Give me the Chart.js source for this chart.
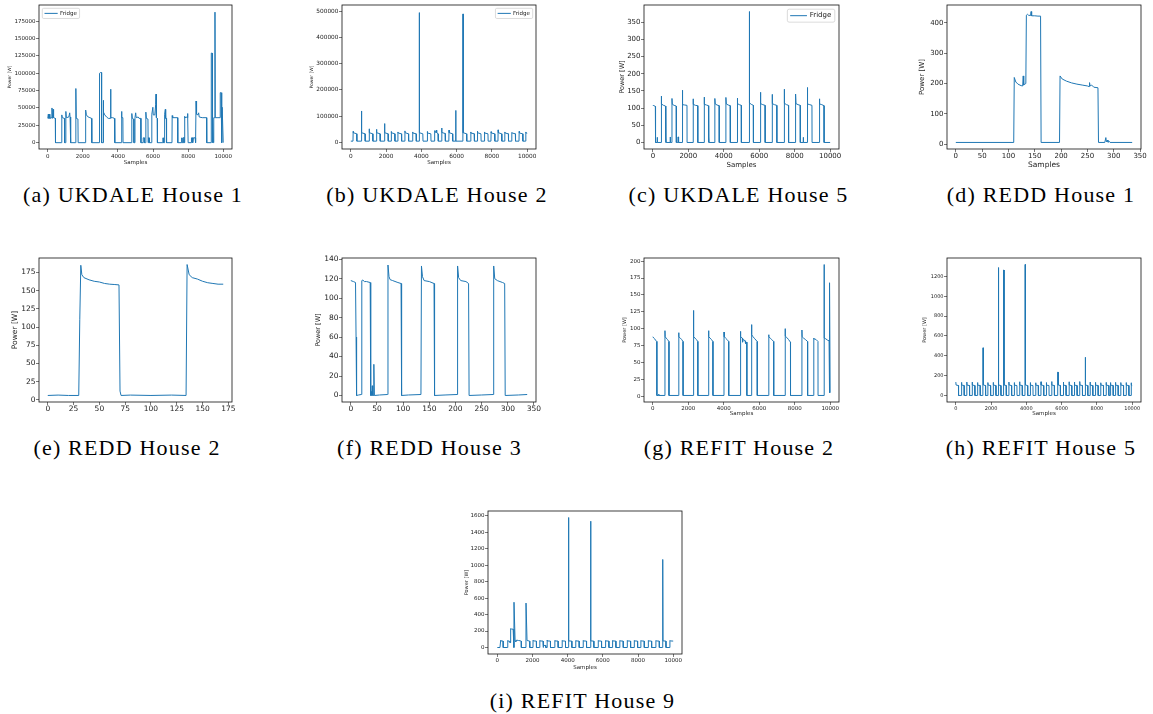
<!DOCTYPE html>
<html>
<head>
<meta charset="utf-8">
<script src="https://cdn.jsdelivr.net/npm/chart.js@4.4.1/dist/chart.umd.min.js"></script>
<style>
  html, body { margin: 0; padding: 0; background: #fff; }
  #page { position: relative; width: 1153px; height: 714px; overflow: hidden; }
  .cell { position: absolute; }
  .cap {
    position: absolute;
    font-family: "Liberation Serif", serif;
    font-size: 22px;
    line-height: 22px;
    letter-spacing: 1.2px;
    white-space: nowrap;
    transform: translateX(-50%);
    color: #000;
  }
</style>
</head>
<body>
<div id="page"></div>
<script>
// series as [sample, power] pairs
const ukdale1 = [
  [0, 35000], [30, 41000], [60, 35000], [90, 41000], [120, 35000], [200, 36000], [240, 50000], [260, 35000],
  [300, 48000], [330, 36000], [430, 35000], [440, 0],
  [790, 0], [800, 40000], [830, 36000], [950, 35000], [960, 0], [1020, 0], [1030, 45000], [1060, 36000],
  [1200, 37000], [1250, 43000], [1270, 37000], [1300, 37000], [1310, 0],
  [1590, 0], [1600, 78000], [1625, 35000], [1720, 34000], [1730, 0],
  [2150, 0], [2160, 47000], [2200, 40000], [2300, 37000], [2400, 36000], [2500, 35000], [2510, 0],
  [2940, 0], [2950, 100000], [3000, 101000], [3060, 101000], [3070, 0], [3150, 0], [3160, 61000], [3190, 44000],
  [3250, 40000], [3350, 37000], [3450, 35000], [3560, 35000], [3580, 77000], [3600, 36000], [3700, 36000],
  [3800, 35000], [3820, 0],
  [4190, 0], [4200, 45000], [4230, 36000], [4280, 36000], [4290, 0],
  [4780, 0], [4790, 42000], [4820, 35000], [4900, 34000], [4910, 0], [4960, 0], [4970, 36000], [5010, 43000],
  [5040, 36000], [5150, 37000], [5200, 35000], [5300, 35000], [5310, 0],
  [5430, 0], [5440, 7000], [5500, 7000], [5510, 0], [5580, 0], [5590, 44000], [5620, 35000], [5710, 34000],
  [5720, 0], [5740, 7000], [5780, 7000], [5790, 0],
  [5920, 0], [5930, 41000], [5990, 51000], [6010, 40000], [6100, 40000], [6150, 55000], [6170, 70000],
  [6190, 36000], [6240, 35000], [6250, 0],
  [6560, 0], [6570, 7000], [6600, 0], [6650, 0], [6660, 41000], [6700, 48000], [6720, 35000], [6760, 35000], [6770, 0],
  [7080, 0], [7090, 39000], [7120, 36000], [7400, 36000], [7410, 0],
  [7620, 0], [7630, 7000], [7660, 0], [7700, 7000], [7730, 0], [7760, 8000], [7780, 0], [7790, 38000],
  [7820, 36000], [7950, 37000], [7960, 42000], [7990, 36000], [8000, 0],
  [8180, 0], [8190, 7000], [8250, 7000], [8260, 0], [8300, 7000], [8400, 7000], [8410, 0], [8440, 0],
  [8450, 60000], [8480, 41000], [8560, 40000], [8600, 43000], [8630, 37000], [8800, 36000], [9050, 36000], [9060, 0],
  [9310, 0], [9320, 129000], [9370, 129000], [9380, 0], [9400, 36000], [9440, 0], [9460, 36000], [9520, 36000],
  [9530, 188000], [9545, 36000], [9700, 36000], [9820, 36000], [9830, 72000], [9880, 72000], [9890, 36000],
  [9920, 36000], [9930, 0], [9940, 51000], [9980, 51000], [10000, 0]
];

const ukdale2 = [
  [0, 5000], [123, 5000], [133, 42000], [148, 37000], [333, 33000], [343, 5000],
  [596, 5000], [606, 120000], [616, 37000], [806, 33000], [816, 5000],
  [1032, 5000], [1042, 52000], [1057, 37000], [1242, 33000], [1252, 5000],
  [1448, 5000], [1458, 50000], [1473, 37000], [1658, 33000], [1668, 5000],
  [1903, 5000], [1913, 72000], [1928, 37000], [2113, 33000], [2123, 5000],
  [2282, 5000], [2292, 42000], [2307, 37000], [2492, 33000], [2502, 5000],
  [2661, 5000], [2671, 40000], [2686, 36000], [2871, 33000], [2881, 5000],
  [3058, 5000], [3068, 44000], [3083, 37000], [3268, 33000], [3278, 5000],
  [3494, 5000], [3504, 40000], [3519, 36000], [3704, 33000], [3714, 5000],
  [3873, 5000], [3883, 495000], [3893, 37000], [4083, 33000], [4093, 5000],
  [4327, 5000], [4337, 42000], [4352, 36000], [4537, 33000], [4547, 5000],
  [4744, 5000], [4754, 45000], [4800, 38000], [4850, 47000], [4870, 37000], [4950, 33000], [4960, 5000],
  [5142, 5000], [5152, 55000], [5167, 38000], [5352, 34000], [5362, 5000],
  [5558, 5000], [5568, 47000], [5583, 37000], [5768, 33000], [5778, 5000],
  [5940, 5000], [5950, 122000], [5960, 5000],
  [6354, 5000], [6364, 490000], [6374, 37000], [6564, 33000], [6574, 5000],
  [6789, 5000], [6799, 40000], [6814, 36000], [6999, 33000], [7009, 5000],
  [7168, 5000], [7178, 43000], [7193, 37000], [7378, 33000], [7388, 5000],
  [7566, 5000], [7576, 40000], [7591, 36000], [7776, 33000], [7786, 5000],
  [7945, 5000], [7955, 41000], [7970, 36000], [8155, 33000], [8165, 5000],
  [8343, 5000], [8353, 48000], [8368, 37000], [8553, 33000], [8563, 5000],
  [8722, 5000], [8732, 40000], [8747, 36000], [8932, 33000], [8942, 5000],
  [9119, 5000], [9129, 38000], [9144, 36000], [9329, 33000], [9339, 5000],
  [9536, 5000], [9546, 42000], [9561, 36000], [9746, 33000], [9756, 5000],
  [9914, 5000], [9924, 40000], [9939, 36000], [10000, 35000]
];

const ukdale5 = [
  [0, 107], [20, 108], [140, 105], [151, 0], [240, 0], [246, 15], [256, 0],
  [468, 0], [473, 135], [495, 112], [600, 108], [715, 106], [720, 0], [735, 0], [740, 16], [750, 0],
  [970, 0], [980, 16], [990, 0], [1075, 0], [1078, 128], [1100, 111], [1200, 108], [1320, 106], [1325, 0],
  [1410, 0], [1415, 16], [1445, 16], [1450, 0],
  [1660, 0], [1663, 152], [1685, 110], [1800, 109], [1925, 108], [1930, 0],
  [2265, 0], [2268, 127], [2290, 111], [2400, 108], [2530, 107], [2535, 0],
  [2890, 0], [2892, 132], [2915, 111], [3020, 109], [3135, 107], [3140, 0], [3155, 0], [3160, 16], [3170, 0],
  [3495, 0], [3497, 128], [3520, 112], [3620, 109], [3740, 107], [3745, 0],
  [4118, 0], [4120, 131], [4145, 112], [4250, 109], [4365, 107], [4370, 0],
  [4760, 0], [4763, 129], [4785, 113], [4880, 110], [4988, 108], [4993, 0],
  [5440, 0], [5443, 381], [5455, 115], [5550, 111], [5668, 108], [5673, 0],
  [6064, 0], [6067, 146], [6090, 113], [6200, 110], [6330, 108], [6335, 0],
  [6725, 0], [6728, 140], [6750, 113], [6860, 110], [6990, 108], [6995, 0],
  [7406, 0], [7409, 155], [7430, 114], [7540, 110], [7652, 108], [7657, 0],
  [8048, 0], [8051, 141], [8075, 113], [8190, 110], [8313, 108], [8318, 0], [8480, 0], [8486, 15], [8495, 0],
  [8710, 0], [8713, 160], [8735, 112], [8850, 110], [8975, 108], [8980, 0],
  [9390, 0], [9393, 127], [9415, 112], [9530, 110], [9655, 107], [9660, 0], [10000, 0]
];

const redd1 = [
  [0, 6], [110, 6], [111, 220], [114, 205], [118, 198], [124, 193], [127, 192], [128, 225], [129, 195],
  [131, 198], [133, 200], [134, 425], [136, 428], [138, 425], [142, 424], [143, 437], [144, 423],
  [150, 423], [156, 422], [161, 422], [162, 6], [197, 6], [198, 225], [202, 215], [210, 208], [220, 202],
  [230, 198], [240, 195], [250, 192], [253, 190], [254, 203], [255, 192], [258, 195], [262, 188],
  [270, 186], [271, 6], [283, 6], [285, 22], [286, 8], [288, 14], [289, 7], [292, 9], [293, 6], [335, 6]
];

const redd2 = [
  [0, 6], [10, 6.5], [20, 6], [30, 6], [31, 110], [32, 185], [33, 172], [35, 168], [40, 165], [45, 163],
  [50, 162], [55, 160], [60, 159], [65, 158.5], [69, 158], [70, 12], [71, 6], [80, 6.5], [100, 6],
  [120, 6.5], [134, 6], [135, 186], [137, 172], [140, 168], [145, 166], [150, 163], [155, 161],
  [160, 160], [165, 159], [170, 159]
];

const redd3 = [
  [0, 118], [5, 117], [9, 116], [10, 60], [11, 0], [15, 0.5], [20, 1], [21, 118], [23, 118.5], [26, 117],
  [30, 117], [37, 116], [38, 0], [39, 4], [40, 0], [41, 10], [42, 0], [43, 0], [44, 32], [45, 0], [55, 0.5],
  [70, 1], [71, 134], [73, 122], [75, 119], [80, 118], [90, 116], [96, 115], [97, 0], [110, 0.5],
  [134, 1], [135, 133], [137, 122], [140, 118], [150, 117], [159, 115], [160, 0], [180, 0.5],
  [203, 1], [204, 133], [206, 121], [210, 118], [220, 117], [225, 115], [226, 0], [250, 0.5],
  [272, 1], [273, 133], [275, 120], [280, 118], [290, 116], [294, 115], [295, 0], [320, 0.5], [337, 1]
];

const refit2 = [
  [0, 88], [50, 86], [100, 85], [150, 83], [220, 81], [227, 1], [320, 1], [330, 3], [340, 1],
  [680, 1], [682, 97], [695, 88], [750, 86], [820, 84], [905, 81], [909, 1],
  [1455, 1], [1458, 94], [1470, 88], [1550, 86], [1620, 84], [1700, 81], [1705, 1],
  [2289, 1], [2292, 127], [2305, 88], [2380, 86], [2450, 84], [2535, 81], [2538, 1],
  [3141, 1], [3144, 97], [3157, 88], [3230, 86], [3300, 84], [3386, 81], [3390, 1],
  [4012, 1], [4015, 95], [4030, 88], [4100, 86], [4180, 84], [4276, 81], [4280, 1],
  [4940, 1], [4943, 96], [4956, 88], [5050, 86], [5060, 80], [5100, 84], [5200, 82], [5230, 78], [5298, 80], [5303, 1],
  [5565, 1], [5568, 106], [5580, 91], [5650, 88], [5750, 85], [5885, 81], [5890, 1],
  [6531, 1], [6534, 91], [6548, 88], [6620, 86], [6700, 84], [6814, 81], [6818, 1],
  [7459, 1], [7462, 100], [7475, 89], [7550, 87], [7650, 84], [7761, 80], [7765, 1],
  [8406, 1], [8409, 98], [8422, 88], [8500, 86], [8600, 84], [8727, 81], [8731, 1],
  [9069, 1], [9072, 86], [9085, 85], [9200, 84], [9314, 81], [9318, 1],
  [9656, 1], [9659, 195], [9672, 86], [9750, 85], [9850, 83], [9940, 82], [9945, 5], [9965, 168],
  [9990, 168], [10000, 5]
];

const refit5 = [
  [0, 135], [15, 105], [150, 100], [155, 0],
  [319, 0], [322, 132], [337, 105], [472, 100], [477, 0],
  [622, 0], [625, 135], [640, 104], [775, 100], [780, 0],
  [925, 0], [928, 135], [943, 105], [1078, 100], [1083, 0],
  [1228, 0], [1231, 130], [1246, 104], [1381, 100], [1386, 0],
  [1531, 0], [1534, 480], [1560, 480], [1565, 105], [1684, 100], [1689, 0],
  [1815, 0], [1818, 130], [1833, 104], [1968, 100], [1973, 0],
  [2118, 0], [2121, 132], [2136, 105], [2271, 100], [2276, 0],
  [2402, 0], [2405, 1290], [2430, 1290], [2435, 105], [2555, 100], [2560, 0],
  [2705, 0], [2708, 1265], [2733, 1265], [2738, 105], [2858, 100], [2863, 0],
  [3008, 0], [3011, 135], [3026, 105], [3161, 100], [3166, 0],
  [3312, 0], [3315, 130], [3330, 104], [3465, 100], [3470, 0],
  [3614, 0], [3617, 138], [3632, 105], [3767, 100], [3772, 0],
  [3918, 0], [3921, 1320], [3946, 1320], [3951, 105], [4071, 100], [4076, 0],
  [4221, 0], [4224, 130], [4239, 104], [4374, 100], [4379, 0],
  [4524, 0], [4527, 128], [4542, 104], [4677, 100], [4682, 0],
  [4827, 0], [4830, 138], [4845, 105], [4980, 100], [4985, 0],
  [5130, 0], [5133, 130], [5148, 104], [5283, 100], [5288, 0],
  [5433, 0], [5436, 140], [5451, 105], [5586, 100], [5591, 0],
  [5774, 0], [5777, 235], [5802, 235], [5807, 105], [5927, 100], [5932, 0],
  [6096, 0], [6099, 135], [6114, 104], [6249, 100], [6254, 0],
  [6418, 0], [6421, 138], [6436, 105], [6571, 100], [6576, 0],
  [6721, 0], [6724, 135], [6739, 104], [6874, 100], [6879, 0],
  [7024, 0], [7027, 140], [7042, 105], [7177, 100], [7182, 0],
  [7327, 0], [7330, 385], [7355, 385], [7360, 105], [7480, 100], [7485, 0],
  [7611, 0], [7614, 135], [7629, 104], [7764, 100], [7769, 0],
  [7914, 0], [7917, 132], [7932, 104], [8067, 100], [8072, 0],
  [8217, 0], [8220, 128], [8235, 104], [8370, 100], [8375, 0],
  [8520, 0], [8523, 132], [8538, 104], [8673, 100], [8678, 0],
  [8766, 0], [8769, 130], [8784, 104], [8919, 100], [8924, 0],
  [9050, 0], [9053, 132], [9068, 104], [9203, 100], [9208, 0],
  [9353, 0], [9356, 130], [9371, 104], [9506, 100], [9511, 0],
  [9656, 0], [9659, 130], [9674, 104], [9809, 100], [9814, 0],
  [9940, 0], [9943, 128], [9958, 104], [10000, 100]
];

const refit9 = [
  [0, 0], [150, 0], [190, 85], [200, 80], [330, 78], [335, 0],
  [580, 0], [588, 85], [600, 80], [700, 75], [720, 60], [755, 60], [759, 230], [800, 225], [900, 222],
  [940, 222], [945, 0], [949, 550], [1000, 550], [1010, 85], [1050, 70], [1100, 90], [1200, 85],
  [1300, 82], [1360, 78], [1366, 0],
  [1628, 0], [1632, 540], [1680, 540], [1690, 85], [1840, 78], [1845, 0],
  [2028, 0], [2031, 85], [2045, 80], [2220, 78], [2225, 0],
  [2407, 0], [2410, 85], [2425, 80], [2600, 78], [2605, 0], [2620, 0], [2625, 25], [2750, 25], [2755, 0],
  [2825, 0], [2828, 90], [2843, 80], [3018, 78], [3023, 0],
  [3261, 0], [3264, 85], [3279, 80], [3454, 78], [3459, 0],
  [3679, 0], [3682, 85], [3697, 80], [3872, 78], [3877, 0],
  [4040, 0], [4043, 1580], [4060, 1580], [4065, 80], [4233, 78], [4238, 0],
  [4457, 0], [4460, 85], [4475, 80], [4650, 78], [4655, 0],
  [4875, 0], [4878, 85], [4893, 80], [5068, 78], [5073, 0],
  [5292, 0], [5295, 1535], [5320, 1535], [5325, 80], [5485, 78], [5490, 0],
  [5729, 0], [5732, 85], [5747, 80], [5922, 78], [5927, 0],
  [6147, 0], [6150, 85], [6165, 80], [6340, 78], [6345, 0],
  [6545, 0], [6548, 85], [6563, 80], [6738, 78], [6743, 0],
  [6963, 0], [6966, 85], [6981, 80], [7156, 78], [7161, 0],
  [7381, 0], [7384, 85], [7399, 80], [7574, 78], [7579, 0],
  [7779, 0], [7782, 85], [7797, 80], [7972, 78], [7977, 0],
  [8159, 0], [8162, 85], [8177, 80], [8352, 78], [8357, 0],
  [8576, 0], [8579, 85], [8594, 80], [8769, 78], [8774, 0],
  [9013, 0], [9016, 85], [9031, 80], [9206, 78], [9211, 0],
  [9392, 0], [9395, 1070], [9415, 1070], [9420, 80], [9585, 78], [9590, 0],
  [9810, 0], [9813, 85], [9828, 80], [10000, 78]
];

// tick labels
const ticks10k = [0, 2000, 4000, 6000, 8000, 10000];
const ticks350 = [0, 50, 100, 150, 200, 250, 300, 350];
const ticks175 = [0, 25, 50, 75, 100, 125, 150, 175];
const ukdale1Ticks = [0, 25000, 50000, 75000, 100000, 125000, 150000, 175000];
const ukdale2Ticks = [0, 100000, 200000, 300000, 400000, 500000];
const redd1Ticks = [0, 100, 200, 300, 400];
const redd3Ticks = [0, 20, 40, 60, 80, 100, 120, 140];
const refit2Ticks = [0, 25, 50, 75, 100, 125, 150, 175, 200];
const refit5Ticks = [0, 200, 400, 600, 800, 1000, 1200];
const refit9Ticks = [0, 200, 400, 600, 800, 1000, 1200, 1400, 1600];

const captions = [
  '(a) UKDALE House 1', '(b) UKDALE House 2', '(c) UKDALE House 5',
  '(d) REDD House 1', '(e) REDD House 2', '(f) REDD House 3',
  '(g) REFIT House 2', '(h) REFIT House 5', '(i) REFIT House 9'
];

// layout: plot box [left, top, right, bottom], fonts, label positions
const panels = [
  { data: ukdale1, xt: ticks10k, yt: ukdale1Ticks, x: [-500, 10500], y: [-9100, 198300],
    box: [39, 5, 232, 149], tick: 5.5, yLab: [9.5, 4.5], xLab: [163, 5.5], xPad: 1.5, legend: ['left', 5.5], cap: [133, 184] },
  { data: ukdale2, xt: ticks10k, yt: ukdale2Ticks, x: [-500, 10500], y: [-24950, 523950],
    box: [342, 5, 536, 149], tick: 5.8, yLab: [312, 4.5], xLab: [163, 5.5], xPad: 1.5, legend: ['right', 5.5], cap: [437, 184] },
  { data: ukdale5, xt: ticks10k, yt: ticks350, x: [-500, 10500], y: [-19, 400],
    box: [644, 5, 839, 149], tick: 7, yLab: [621.7, 6.5], xLab: [164.7, 7], xPad: 0, legend: ['right', 7], cap: [738.5, 184] },
  { data: redd1, xt: ticks350, yt: redd1Ticks, x: [-16.75, 351.75], y: [-15.6, 458.6],
    box: [947, 5, 1141, 149], tick: 7, yLab: [921.7, 7], xLab: [165.7, 7.5], xPad: 0, legend: null, cap: [1041, 184] },
  { data: redd2, xt: ticks175, yt: ticks175, x: [-8.5, 178.5], y: [-3, 195],
    box: [39, 258, 232, 402], tick: 7.5, yLab: [15, 7.5], xLab: null, xPad: 0, legend: null, cap: [127, 437] },
  { data: redd3, xt: ticks350, yt: redd3Ticks, x: [-16.85, 353.85], y: [-6.7, 141.2],
    box: [342, 258, 536, 402], tick: 7.5, yLab: [317.7, 6.5], xLab: null, xPad: 0, legend: null, cap: [429.5, 437] },
  { data: refit2, xt: ticks10k, yt: refit2Ticks, x: [-500, 10500], y: [-8.7, 204.7],
    box: [644, 258, 839, 402], tick: 5.5, yLab: [625, 5], xLab: [414, 5.5], xPad: 0.5, legend: null, cap: [739, 437] },
  { data: refit5, xt: ticks10k, yt: refit5Ticks, x: [-500, 10500], y: [-66, 1386],
    box: [947, 258, 1141, 402], tick: 5, yLab: [925, 5], xLab: [414, 5.5], xPad: 0.5, legend: null, cap: [1041, 437] },
  { data: refit9, xt: ticks10k, yt: refit9Ticks, x: [-530, 10500], y: [-79, 1659],
    box: [488, 511, 682, 654], tick: 5.5, yLab: [466.7, 5], xLab: [667.7, 5.5], xPad: 0.5, legend: null, cap: [582.5, 690] }
];

Chart.defaults.font.family = '"DejaVu Sans", sans-serif';
Chart.defaults.color = '#222';

const frame = {
  id: 'frame',
  afterDraw(chart) {
    const { ctx, chartArea: a } = chart;
    ctx.save();
    ctx.strokeStyle = '#111';
    ctx.lineWidth = 0.8;
    ctx.strokeRect(a.left, a.top, a.right - a.left, a.bottom - a.top);
    ctx.restore();
  }
};

const boxLegend = {
  id: 'boxLegend',
  afterDraw(chart, args, opts) {
    if (!opts || !opts.side) return;
    const { ctx, chartArea: a } = chart;
    const f = opts.size;
    const label = chart.data.datasets[0].label;
    ctx.save();
    ctx.font = f + 'px "DejaVu Sans"';
    const w = f * 3.7 + ctx.measureText(label).width;
    const h = f * 1.85;
    const off = f * 0.6;
    const x = opts.side === 'left' ? a.left + off : a.right - off - w;
    const y = a.top + off;
    ctx.fillStyle = 'rgba(255,255,255,0.8)';
    ctx.strokeStyle = '#cccccc';
    ctx.lineWidth = 0.7;
    ctx.beginPath();
    ctx.roundRect(x, y, w, h, f * 0.25);
    ctx.fill();
    ctx.stroke();
    ctx.strokeStyle = '#1f77b4';
    ctx.lineWidth = 1;
    ctx.beginPath();
    ctx.moveTo(x + f * 0.4, y + h / 2);
    ctx.lineTo(x + f * 2.8, y + h / 2);
    ctx.stroke();
    ctx.fillStyle = '#222';
    ctx.textBaseline = 'middle';
    ctx.fillText(label, x + f * 3.2, y + h / 2);
    ctx.restore();
  }
};

const page = document.getElementById('page');

panels.forEach((p, i) => {
  const [L, T, R, B] = p.box;
  const left = Math.round(p.yLab[0] - p.yLab[1] * 0.6);
  const top = T - 6;
  const right = R + 16;
  const bottom = p.xLab ? Math.round(p.xLab[0] + p.xLab[1] * 0.6) : B + 16;
  const yw = L - left;
  const xh = bottom - B;

  const cell = document.createElement('div');
  cell.className = 'cell';
  cell.style.left = left + 'px';
  cell.style.top = top + 'px';
  cell.style.width = (right - left) + 'px';
  cell.style.height = (bottom - top) + 'px';
  const canvas = document.createElement('canvas');
  cell.appendChild(canvas);
  page.appendChild(cell);

  const cap = document.createElement('div');
  cap.className = 'cap';
  cap.style.left = p.cap[0] + 'px';
  cap.style.top = p.cap[1] + 'px';
  cap.textContent = captions[i];
  page.appendChild(cap);

  const tickGrid = { drawOnChartArea: false, tickLength: 3, color: '#222', lineWidth: 0.6 };

  new Chart(canvas, {
    type: 'line',
    data: {
      datasets: [{
        label: 'Fridge',
        data: p.data.map(([x, y]) => ({ x, y })),
        borderColor: '#1f77b4',
        borderWidth: 1,
        pointRadius: 0,
        tension: 0,
        fill: false
      }]
    },
    options: {
      responsive: true,
      maintainAspectRatio: false,
      animation: false,
      layout: { padding: { top: 6, right: 16, left: 0, bottom: 0 } },
      plugins: {
        legend: { display: false },
        tooltip: { enabled: false },
        boxLegend: p.legend ? { side: p.legend[0], size: p.legend[1] } : false
      },
      scales: {
        x: {
          type: 'linear',
          min: p.x[0],
          max: p.x[1],
          afterBuildTicks: (s) => { s.ticks = p.xt.map(v => ({ value: v })); },
          afterFit: (s) => { s.height = xh; },
          ticks: { autoSkip: false, maxRotation: 0, padding: p.xPad, font: { size: p.tick }, callback: v => String(v) },
          grid: tickGrid,
          border: { display: false },
          title: p.xLab
            ? { display: true, text: 'Samples', font: { size: p.xLab[1] }, padding: 0 }
            : { display: false }
        },
        y: {
          type: 'linear',
          min: p.y[0],
          max: p.y[1],
          afterBuildTicks: (s) => { s.ticks = p.yt.map(v => ({ value: v })); },
          afterFit: (s) => { s.width = yw; },
          ticks: { autoSkip: false, padding: 0.5, font: { size: p.tick }, callback: v => String(v) },
          grid: tickGrid,
          border: { display: false },
          title: { display: true, text: 'Power [W]', font: { size: p.yLab[1] }, padding: 0 }
        }
      }
    },
    plugins: [frame, boxLegend]
  });
});
</script>
</body>
</html>
